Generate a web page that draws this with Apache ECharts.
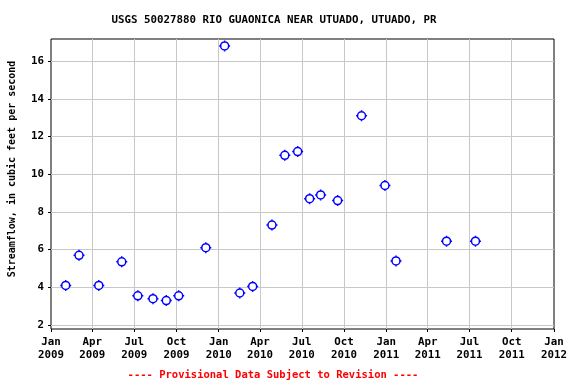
<!DOCTYPE html>
<html><head><meta charset="utf-8">
<script src="https://cdn.jsdelivr.net/npm/echarts@6/dist/echarts.min.js"></script>
<style>html,body{margin:0;padding:0;background:#fff}#c{width:576px;height:384px}</style>
</head><body><div id="c"></div>
<script>
var titleText = 'USGS 50027880 RIO GUAONICA NEAR UTUADO, UTUADO, PR';
var yAxisName = 'Streamflow, in cubic feet per second';
var noteText = '---- Provisional Data Subject to Revision ----';
var dates = ['2009-02-02','2009-03-03','2009-04-15','2009-06-04','2009-07-09','2009-08-11','2009-09-09','2009-10-06','2009-12-04','2010-01-14','2010-02-16','2010-03-16','2010-04-27','2010-05-25','2010-06-22','2010-07-18','2010-08-11','2010-09-17','2010-11-08','2010-12-29','2011-01-22','2011-05-12','2011-07-14'];
var values = [4.1,5.7,4.1,5.35,3.55,3.4,3.3,3.55,6.1,16.8,3.7,4.05,7.3,11.0,11.2,8.7,8.9,8.6,13.1,9.4,5.4,6.45,6.45];
var xTicks = ['2009-01-01','2009-04-01','2009-07-01','2009-10-01','2010-01-01','2010-04-01','2010-07-01','2010-10-01','2011-01-01','2011-04-01','2011-07-01','2011-10-01','2012-01-01'];
var yTicks = [2,4,6,8,10,12,14,16];
var yMin = 1.79, yMax = 17.17;
var monthNames = ['Jan','Feb','Mar','Apr','May','Jun','Jul','Aug','Sep','Oct','Nov','Dec'];

function ts(s){var p=s.split('-');return Date.UTC(+p[0],+p[1]-1,+p[2]);}
var xTickTs = xTicks.map(ts);
var FONT = '"DejaVu Sans Mono", monospace';
var chart = echarts.init(document.getElementById('c'), null, {renderer:'canvas'});
chart.setOption({
  animation:false,
  backgroundColor:'#fff',
  grid:{left:51, top:39, width:503, height:290, show:true, borderColor:'#000', borderWidth:1, backgroundColor:'transparent'},
  xAxis:{
    type:'value', min:xTickTs[0], max:xTickTs[xTickTs.length-1],
    axisLine:{show:false},
    axisTick:{show:true, customValues:xTickTs, length:3, inside:false, lineStyle:{color:'#000'}},
    splitLine:{show:false},
    axisLabel:{customValues:xTickTs, margin:7, color:'#000', fontFamily:FONT, fontWeight:'bold', fontSize:10.8, lineHeight:12.5,
      formatter:function(v){var d=new Date(v);return monthNames[d.getUTCMonth()]+'\n'+d.getUTCFullYear();}}
  },
  yAxis:{
    type:'value', min:yMin, max:yMax,
    axisLine:{show:false},
    axisTick:{show:true, customValues:yTicks, length:3, lineStyle:{color:'#000'}},
    splitLine:{show:false},
    axisLabel:{customValues:yTicks, margin:7, color:'#000', fontFamily:FONT, fontWeight:'bold', fontSize:10.8}
  },
  graphic:[
    {type:'text', x:274, y:20, style:{text:titleText, textAlign:'center', textVerticalAlign:'middle', font:'bold 10.8px '+FONT, fill:'#000'}},
    {type:'text', x:12, y:169, rotation:Math.PI/2, style:{text:yAxisName, textAlign:'center', textVerticalAlign:'middle', font:'bold 10px '+FONT, fill:'#000'}},
    {type:'text', x:273, y:375, style:{text:noteText, textAlign:'center', textVerticalAlign:'middle', font:'bold 10.5px '+FONT, fill:'#ff0000'}}
  ],
  series:[
    {type:'line', data:[], silent:true,
     markLine:{silent:true, symbol:'none', label:{show:false}, lineStyle:{color:'#c8c8c8', width:1, type:'solid'},
       data: yTicks.map(function(v){return {yAxis:v};}).concat(xTickTs.slice(1,-1).map(function(v){return {xAxis:v};}))}},
    {type:'scatter', data: dates.map(function(d,i){return [ts(d), values[i]];}),
     symbol:'path://M0,-4A4,4 0 1,1 0,4A4,4 0 1,1 0,-4Z M0,-5.5L0,-4 M0,4L0,5.5 M-5.5,0L-4,0 M4,0L5.5,0',
     symbolSize:11, symbolKeepAspect:true,
     itemStyle:{color:'#ffffff', borderColor:'#0000ff', borderWidth:1.5, opacity:1}, z:5}
  ]
});
</script></body></html>
